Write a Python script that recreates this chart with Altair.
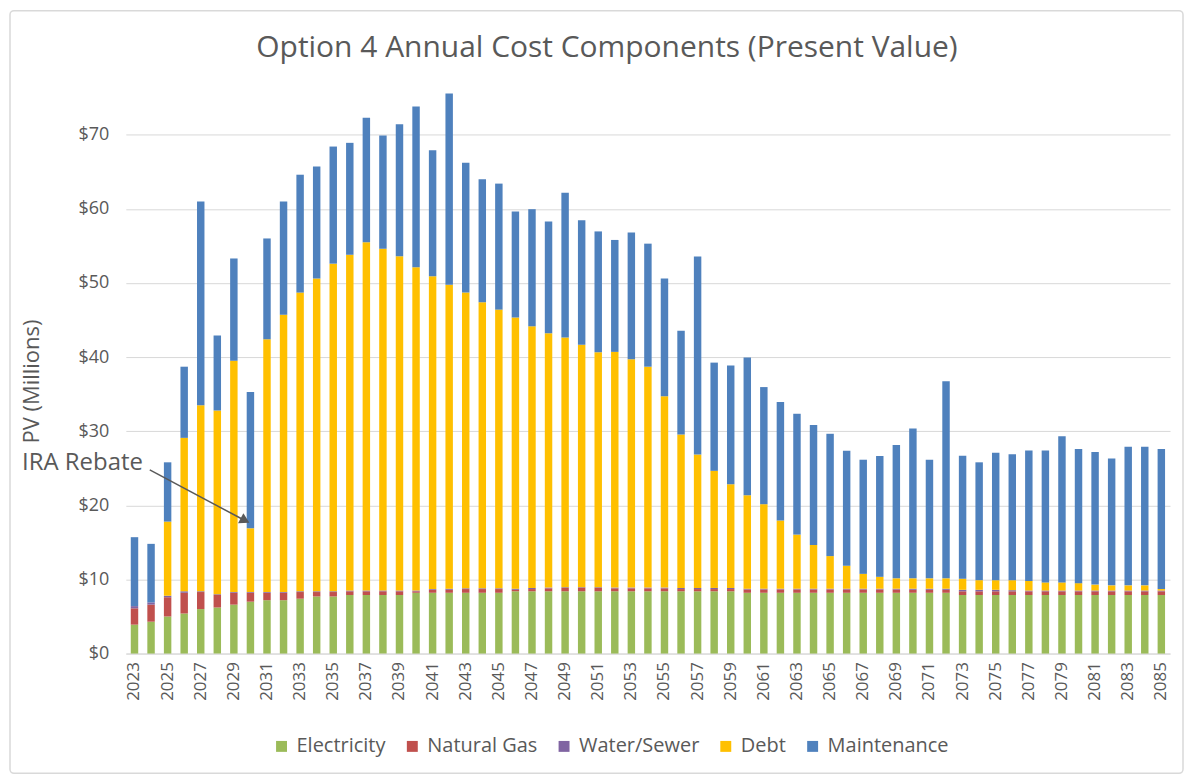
import altair as alt
import pandas as pd

years = list(range(2023, 2086))

electricity = [3.9, 4.3, 5.0, 5.4, 6.0, 6.2, 6.6, 7.0, 7.2, 7.2,
               7.4, 7.7, 7.7, 7.9, 7.9, 7.9, 7.9, 8.2, 8.2, 8.2,
               8.2, 8.2, 8.2, 8.4, 8.4, 8.4, 8.4, 8.4, 8.4, 8.4,
               8.4, 8.4, 8.4, 8.4, 8.4, 8.4, 8.4, 8.2, 8.2, 8.2,
               8.2, 8.2, 8.2, 8.2, 8.2, 8.2, 8.2, 8.2, 8.2, 8.2,
               7.9, 7.9, 7.9, 7.9, 7.9, 7.9, 7.9, 7.9, 7.9, 7.9,
               7.9, 7.9, 7.9]
natural_gas = [2.2, 2.3, 2.6, 2.8, 2.3, 1.7, 1.6, 1.2, 1.0, 1.0,
               0.9, 0.6, 0.6, 0.5, 0.5, 0.5, 0.5, 0.2, 0.4, 0.4,
               0.5, 0.5, 0.5, 0.2, 0.3, 0.4, 0.45, 0.45, 0.45, 0.4,
               0.4, 0.4, 0.4, 0.3, 0.3, 0.3, 0.3, 0.45, 0.45, 0.45,
               0.45, 0.45, 0.45, 0.45, 0.45, 0.45, 0.45, 0.4, 0.4, 0.4,
               0.5, 0.5, 0.5, 0.5, 0.5, 0.5, 0.5, 0.5, 0.5, 0.5,
               0.5, 0.5, 0.5]
water_sewer = [0.3, 0.3, 0.2, 0.2, 0.1, 0.1, 0.1, 0.1, 0.1, 0.1,
               0.1, 0.1, 0.1, 0.1, 0.1, 0.1, 0.1, 0.1, 0.1, 0.15,
               0.1, 0.1, 0.1, 0.15, 0.15, 0.1, 0.1, 0.1, 0.1, 0.1,
               0.1, 0.1, 0.1, 0.15, 0.15, 0.15, 0.15, 0.1, 0.1, 0.1,
               0.1, 0.1, 0.1, 0.1, 0.1, 0.1, 0.1, 0.15, 0.15, 0.15,
               0.2, 0.2, 0.2, 0.15, 0.1, 0.1, 0.1, 0.1, 0.1, 0.1,
               0.1, 0.1, 0.1]
debt = [0.0, 0.0, 10.0, 20.7, 25.1, 24.8, 31.2, 8.6, 34.1, 37.4,
        40.3, 42.2, 44.2, 45.3, 47.0, 46.1, 45.1, 43.6, 42.2, 41.0,
        39.9, 38.6, 37.6, 36.6, 35.3, 34.3, 33.7, 32.7, 31.7, 31.8,
        30.8, 29.8, 25.8, 20.7, 18.0, 15.8, 14.0, 12.6, 11.4, 9.2,
        7.3, 5.9, 4.4, 3.1, 2.0, 1.6, 1.4, 1.4, 1.4, 1.4,
        1.5, 1.3, 1.3, 1.35, 1.3, 1.1, 1.1, 1.0, 0.8, 0.7,
        0.7, 0.7, 0.2]
maintenance = [9.3, 7.9, 8.0, 9.6, 27.5, 10.1, 13.8, 18.4, 13.6, 15.3,
               15.9, 15.1, 15.8, 15.1, 16.8, 15.3, 17.8, 21.7, 17.0, 25.8,
               17.5, 16.6, 17.0, 14.3, 15.8, 15.1, 19.5, 16.8, 16.3, 15.1,
               17.1, 16.6, 15.9, 14.0, 26.7, 14.6, 16.0, 18.6, 15.8, 16.0,
               16.3, 16.2, 16.5, 15.5, 15.4, 16.3, 18.0, 20.2, 16.0, 26.6,
               16.6, 15.9, 17.2, 17.0, 17.6, 17.8, 19.7, 18.1, 17.9, 17.1,
               18.7, 18.7, 18.9]

components = ["Electricity", "Natural Gas", "Water/Sewer", "Debt", "Maintenance"]
colors = ["#9BBB59", "#C0504D", "#8064A2", "#FFC000", "#4F81BD"]
series = [electricity, natural_gas, water_sewer, debt, maintenance]

title_text = "Option 4 Annual Cost Components (Present Value)"

rows = []
for ci, (name, vals) in enumerate(zip(components, series)):
    for y, v in zip(years, vals):
        rows.append({"year": y, "component": name, "value": v, "idx": ci})
df = pd.DataFrame(rows)

tick_years = years[::2]
FONT = "Open Sans"
GREY = "#595959"

bars = alt.Chart(df).mark_bar().encode(
    x=alt.X("year:O",
            scale=alt.Scale(paddingInner=0.55, paddingOuter=0.3),
            axis=alt.Axis(title=None, values=tick_years, labelAngle=-90,
                          labelAlign="right", labelBaseline="middle",
                          labelFontSize=17, labelColor=GREY, labelFont=FONT,
                          labelPadding=8, ticks=False, domainColor="#d9d9d9",
                          domainWidth=1)),
    y=alt.Y("value:Q", stack="zero",
            scale=alt.Scale(domain=[0, 80], nice=False),
            axis=alt.Axis(title="PV (Millions)", values=list(range(0, 80, 10)),
                          labelExpr="'$' + datum.value", labelFontSize=18,
                          labelColor=GREY, labelFont=FONT, labelPadding=17,
                          ticks=False, domain=False, gridColor="#d9d9d9",
                          gridWidth=1, titleFontSize=22, titleFont=FONT,
                          titleColor=GREY, titleFontWeight="normal",
                          titleX=-82, titleY=321, titleAngle=-90)),
    color=alt.Color("component:N",
                    scale=alt.Scale(domain=components, range=colors),
                    sort=components,
                    legend=alt.Legend(title=None, orient="none", direction="horizontal",
                                      legendX=146, legendY=677,
                                      symbolType="square", symbolSize=120,
                                      symbolStrokeWidth=0, labelFontSize=20,
                                      labelFont=FONT, labelColor=GREY,
                                      columnPadding=16, labelOffset=5)),
    order=alt.Order("idx:Q", sort="ascending"),
)

title = alt.Chart(pd.DataFrame({"t": [title_text]})).mark_text(
    align="center", baseline="middle", fontSize=30, font=FONT, color=GREY
).encode(x=alt.value(482), y=alt.value(-13), text="t:N")

label = alt.Chart(pd.DataFrame({"t": ["IRA Rebate"]})).mark_text(
    align="left", baseline="middle", fontSize=24, font=FONT, color=GREY
).encode(x=alt.value(-104), y=alt.value(403), text="t:N")

arrow_line = alt.Chart(pd.DataFrame({"a": [1]})).mark_rule(
    color=GREY, strokeWidth=1.5
).encode(x=alt.value(24), x2=alt.value(116), y=alt.value(410), y2=alt.value(459))

arrow_head = alt.Chart(pd.DataFrame({"a": [1]})).mark_point(
    shape="triangle", filled=True, color=GREY, opacity=1, size=130, angle=118
).encode(x=alt.value(118), y=alt.value(460))

border = alt.Chart(pd.DataFrame({"a": [1]})).mark_rect(
    fill=None, stroke="#d9d9d9", strokeWidth=1.5, cornerRadius=4
).encode(x=alt.value(-116), x2=alt.value(1059), y=alt.value(-50), y2=alt.value(714))

chart = alt.layer(border, bars, title, label, arrow_line, arrow_head).properties(
    width=1046, height=594,
    autosize=alt.AutoSizeParams(type="none"),
    padding={"left": 118, "top": 52, "right": 15, "bottom": 122},
).configure_view(stroke=None)

chart.save("out.html", embed_options={"renderer": "svg", "actions": False})
